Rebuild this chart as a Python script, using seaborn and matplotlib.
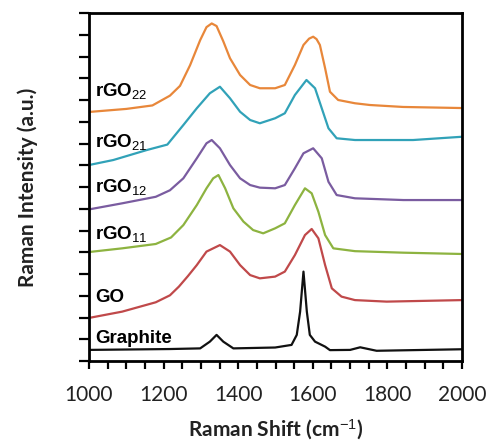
import matplotlib
matplotlib.use("Agg")
import matplotlib.pyplot as plt
from matplotlib.ticker import MultipleLocator, NullFormatter
import seaborn as sns
import pandas as pd

# ---- data (offset intensities in a.u.) ----
x_rgo22 = [1000, 1100, 1170, 1217, 1244, 1271, 1298, 1315, 1329, 1342, 1360, 1378, 1405, 1432, 1458, 1499, 1525, 1552, 1575, 1590, 1601, 1610, 1619, 1633, 1646, 1668, 1713, 1753, 1842, 2000]
y_rgo22 = [11.45, 11.59, 11.75, 12.20, 12.65, 13.60, 14.75, 15.35, 15.52, 15.40, 14.70, 13.92, 13.15, 12.69, 12.54, 12.54, 12.69, 13.61, 14.53, 14.82, 14.91, 14.80, 14.53, 13.46, 12.38, 12.00, 11.85, 11.77, 11.68, 11.63]

x_rgo21 = [1000, 1065, 1155, 1210, 1253, 1289, 1324, 1351, 1378, 1405, 1432, 1458, 1499, 1525, 1552, 1583, 1606, 1624, 1642, 1664, 1713, 1780, 1869, 2000]
y_rgo21 = [9.01, 9.24, 9.70, 9.95, 10.85, 11.62, 12.31, 12.61, 12.08, 11.46, 11.08, 10.93, 11.16, 11.39, 12.23, 12.92, 12.54, 11.62, 10.70, 10.24, 10.16, 10.16, 10.16, 10.31]

x_rgo12 = [1000, 1089, 1179, 1217, 1253, 1289, 1315, 1329, 1351, 1378, 1405, 1432, 1458, 1499, 1525, 1552, 1575, 1601, 1624, 1642, 1664, 1713, 1843, 2000]
y_rgo12 = [6.97, 7.25, 7.55, 7.85, 8.40, 9.32, 10.01, 10.16, 9.78, 9.01, 8.40, 8.09, 7.97, 7.94, 8.09, 8.86, 9.55, 9.78, 9.32, 8.24, 7.63, 7.48, 7.40, 7.40]

x_rgo11 = [1000, 1089, 1179, 1220, 1253, 1289, 1315, 1333, 1347, 1365, 1387, 1414, 1440, 1467, 1499, 1525, 1552, 1579, 1597, 1615, 1633, 1655, 1713, 1843, 2000]
y_rgo11 = [5.01, 5.18, 5.38, 5.68, 6.25, 7.17, 7.94, 8.40, 8.55, 7.94, 7.02, 6.41, 6.02, 5.87, 6.10, 6.33, 7.17, 7.94, 7.71, 6.86, 5.79, 5.18, 5.05, 4.98, 4.92]

x_go = [1000, 1089, 1179, 1217, 1241, 1265, 1289, 1315, 1351, 1378, 1405, 1432, 1458, 1499, 1525, 1552, 1579, 1597, 1615, 1633, 1651, 1677, 1713, 1798, 2000]
y_go = [1.98, 2.27, 2.70, 3.02, 3.42, 3.90, 4.41, 5.03, 5.33, 5.03, 4.41, 3.95, 3.80, 3.88, 4.11, 4.87, 5.79, 6.07, 5.64, 4.41, 3.34, 2.96, 2.80, 2.73, 2.80]

x_graphite = [1000, 1217, 1298, 1324, 1342, 1360, 1387, 1499, 1543, 1557, 1566, 1575, 1584, 1592, 1606, 1633, 1646, 1700, 1727, 1771, 2000]
y_graphite = [0.51, 0.55, 0.58, 0.89, 1.20, 0.89, 0.58, 0.62, 0.74, 1.20, 2.27, 4.11, 2.27, 1.20, 0.89, 0.66, 0.50, 0.51, 0.63, 0.47, 0.54]

samples = ["rGO22", "rGO21", "rGO12", "rGO11", "GO", "Graphite"]
label_texts = ["rGO$_{22}$", "rGO$_{21}$", "rGO$_{12}$", "rGO$_{11}$", "GO", "Graphite"]
label_y = [12.2, 9.85, 7.75, 5.6, 2.73, 0.82]
colors = ["#E8873A", "#31A2B8", "#7A5CA0", "#8DB340", "#C0494A", "#111111"]

x_ticks = [1000, 1200, 1400, 1600, 1800, 2000]

xs = [x_rgo22, x_rgo21, x_rgo12, x_rgo11, x_go, x_graphite]
ys = [y_rgo22, y_rgo21, y_rgo12, y_rgo11, y_go, y_graphite]

rows = []
for name, xv, yv in zip(samples, xs, ys):
    for a, b in zip(xv, yv):
        rows.append({"shift": a, "intensity": b, "sample": name})
df = pd.DataFrame(rows)

sns.set_theme(style="white")
plt.rcParams["font.family"] = ["Lato", "DejaVu Sans"]
plt.rcParams["mathtext.fontset"] = "custom"
plt.rcParams["mathtext.rm"] = "Liberation Sans"
plt.rcParams["mathtext.it"] = "Liberation Sans:italic"
plt.rcParams["mathtext.bf"] = "Liberation Sans:bold"

fig = plt.figure(figsize=(4.87, 4.47), dpi=100)
ax = fig.add_axes([89 / 487, 1 - 361 / 447, (462 - 89) / 487, (361 - 13) / 447])

sns.lineplot(data=df, x="shift", y="intensity", hue="sample", hue_order=samples,
             palette=dict(zip(samples, colors)), legend=False, linewidth=1.6,
             sort=True, estimator=None, ax=ax)
for ln in ax.lines:
    ln.set_solid_joinstyle("round")

ax.set_xlim(1000, 2000)
ax.set_ylim(0, 16)
ax.set_xticks(x_ticks)
ax.xaxis.set_minor_locator(MultipleLocator(50))
ax.yaxis.set_major_locator(MultipleLocator(1))
ax.yaxis.set_major_formatter(NullFormatter())
ax.tick_params(axis="x", which="both", direction="out", length=6, width=1.6,
               colors="black", labelcolor="#222222", labelsize=15, pad=11, bottom=True)
ax.tick_params(axis="y", which="both", direction="out", length=7, width=1.6,
               colors="black", left=True)
for sp in ax.spines.values():
    sp.set_visible(True)
    sp.set_color("black")
    sp.set_linewidth(2)

for txt, yy in zip(label_texts, label_y):
    ax.text(1016, yy, txt, fontsize=13.5, fontweight="bold",
            family=["Liberation Sans"], color="black", va="baseline", ha="left")

ax.set_xlabel("Raman Shift (cm$^{-1}$)", fontsize=15, fontweight="bold",
              color="#222222", labelpad=9)
ax.set_ylabel("Raman Intensity (a.u.)", fontsize=15, fontweight="bold",
              color="#222222", labelpad=26)

fig.savefig("out.png", dpi=100)
